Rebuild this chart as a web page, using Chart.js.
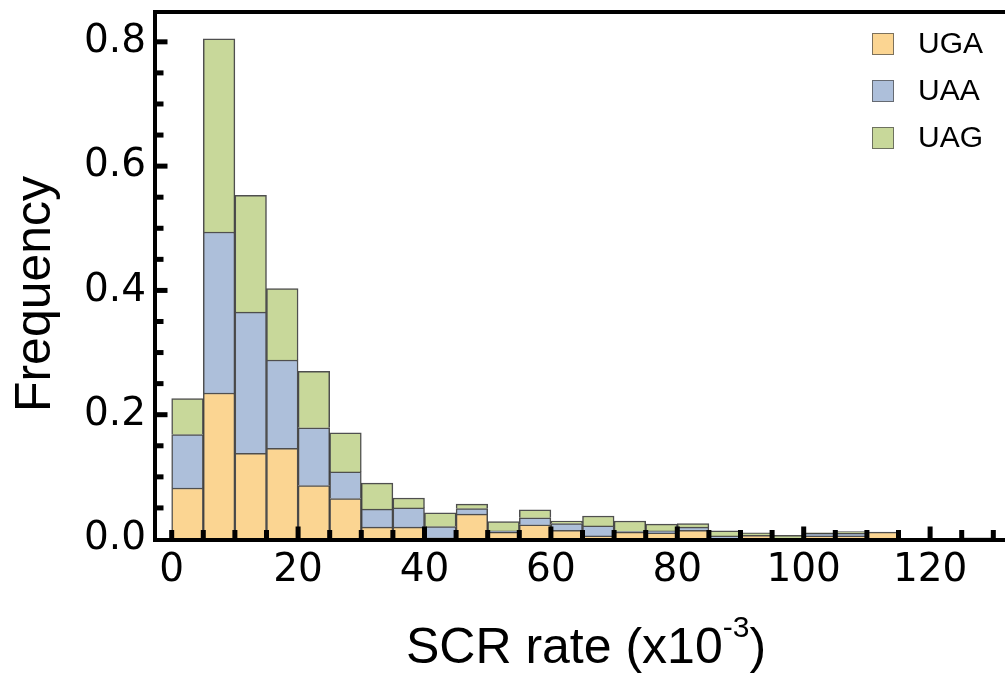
<!DOCTYPE html>
<html>
<head>
<meta charset="utf-8">
<script src="https://cdn.jsdelivr.net/npm/chart.js@4.4.1/dist/chart.umd.min.js"></script>
<style>
html, body { margin: 0; padding: 0; background: #fff; }
#wrap { width: 1005px; height: 673px; }
</style>
</head>
<body>
<div id="wrap"><canvas id="myChart" width="1005" height="673"></canvas></div>
<script>
// histogram bins, 5 wide (SCR rate x10^-3)
var binWidth = 5;
var binStarts = [0, 5, 10, 15, 20, 25, 30, 35, 40, 45, 50, 55, 60, 65, 70, 75, 80, 85, 90, 95, 100, 105, 110, 115, 120, 125];
var uga = [0.082, 0.235, 0.138, 0.146, 0.086, 0.065, 0.019, 0.019, 0.002, 0.040, 0.011, 0.023, 0.014, 0.005, 0.011, 0.010, 0.014, 0, 0.006, 0, 0.005, 0.005, 0.011, 0, 0, 0];
var uaa = [0.086, 0.259, 0.227, 0.142, 0.093, 0.043, 0.029, 0.031, 0.018, 0.009, 0.002, 0.011, 0.011, 0.016, 0.001, 0.003, 0.005, 0.005, 0, 0, 0.004, 0.004, 0, 0, 0, 0];
var uag = [0.058, 0.311, 0.188, 0.115, 0.091, 0.063, 0.042, 0.016, 0.022, 0.007, 0.015, 0.013, 0.004, 0.016, 0.017, 0.011, 0.006, 0.008, 0.004, 0.006, 0.001, 0.003, 0, 0, 0, 0.002];

var xTickLabels = [0, 20, 40, 60, 80, 100, 120];
var yTickLabels = [0, 0.2, 0.4, 0.6, 0.8];

function toPoints(vals) {
  return binStarts.map(function (s, i) {
    return { x: s + binWidth / 2, y: vals[i] ? vals[i] : null };
  });
}

var edge = 'rgba(35,35,35,0.8)';

// frame + inward ticks
var frameAndTicks = {
  id: 'frameAndTicks',
  afterDatasetsDraw: function (chart) {
    var ctx = chart.ctx, a = chart.chartArea;
    var xs = chart.scales.x, ys = chart.scales.y;
    ctx.save();
    ctx.fillStyle = '#000';
    ctx.fillRect(a.left - 2, a.top - 2, a.right - a.left + 4, 4);
    ctx.fillRect(a.left - 2, a.top - 2, 4, a.bottom - a.top + 4);
    ctx.fillRect(a.left - 2, a.bottom - 1, a.right - a.left + 4, 4);
    for (var i = 1; i * 0.05 < ys.max; i++) {
      var py = ys.getPixelForValue(i * 0.05);
      var len = (i % 4 === 0) ? 12.5 : 8.5;
      ctx.fillRect(a.left, py - 2.5, len, 5);
    }
    for (var k = 0; k * 5 <= xs.max; k++) {
      var px = xs.getPixelForValue(k * 5);
      var h = (k % 4 === 0 && k > 0) ? 12.5 : 9;
      ctx.fillRect(px - 2.5, a.bottom - h, 5, h);
    }
    ctx.restore();
  }
};

// axis titles + legend
var titlesAndLegend = {
  id: 'titlesAndLegend',
  afterDraw: function (chart) {
    var ctx = chart.ctx;
    ctx.save();
    ctx.fillStyle = '#000';
    ctx.font = '50px "Liberation Sans", Arial, sans-serif';
    ctx.textBaseline = 'alphabetic';
    ctx.textAlign = 'center';
    ctx.translate(50, 294);
    ctx.rotate(-Math.PI / 2);
    ctx.fillText('Frequency', 0, 0);
    ctx.restore();

    ctx.save();
    ctx.fillStyle = '#000';
    ctx.textBaseline = 'alphabetic';
    ctx.textAlign = 'left';
    var big = '50px "Liberation Sans", Arial, sans-serif';
    var small = '30px "Liberation Sans", Arial, sans-serif';
    ctx.font = big;
    var w1 = ctx.measureText('SCR rate (x10').width;
    var w3 = ctx.measureText(')').width;
    ctx.font = small;
    var w2 = ctx.measureText('-3').width;
    var x0 = 586 - (w1 + w2 + w3) / 2, base = 663;
    ctx.font = big;
    ctx.fillText('SCR rate (x10', x0, base);
    ctx.font = small;
    ctx.fillText('-3', x0 + w1, base - 26);
    ctx.font = big;
    ctx.fillText(')', x0 + w1 + w2, base);

    ctx.font = '30px "Liberation Sans", Arial, sans-serif';
    ctx.textBaseline = 'middle';
    chart.data.datasets.forEach(function (ds, i) {
      var cy = 44 + i * 47;
      ctx.fillStyle = ds.backgroundColor;
      ctx.fillRect(872, cy - 11, 22, 22);
      ctx.strokeStyle = 'rgba(70,70,70,0.7)';
      ctx.lineWidth = 1;
      ctx.strokeRect(872.5, cy - 10.5, 21, 21);
      ctx.fillStyle = '#000';
      ctx.fillText(ds.label, 918, cy + 1);
    });
    ctx.restore();
  }
};

var ctx = document.getElementById('myChart');
var myChart = new Chart(ctx, {
  type: 'bar',
  data: {
    datasets: [
      { label: 'UGA', data: toPoints(uga), backgroundColor: '#FBD592', borderColor: edge, borderWidth: 1.5 },
      { label: 'UAA', data: toPoints(uaa), backgroundColor: '#ADBFDA', borderColor: edge, borderWidth: 1.5 },
      { label: 'UAG', data: toPoints(uag), backgroundColor: '#C8D89A', borderColor: edge, borderWidth: 1.5 }
    ]
  },
  options: {
    responsive: false,
    animation: false,
    devicePixelRatio: 1,
    barPercentage: 1,
    categoryPercentage: 1,
    layout: { padding: { top: 12, right: 0, left: 0, bottom: 0 } },
    plugins: {
      legend: { display: false },
      tooltip: { enabled: false }
    },
    scales: {
      x: {
        type: 'linear',
        stacked: true,
        offset: false,
        min: -2.64,
        max: 131.85,
        grid: { display: false, drawTicks: false },
        border: { display: false },
        afterBuildTicks: function (scale) {
          scale.ticks = xTickLabels.map(function (v) { return { value: v }; });
        },
        afterFit: function (scale) {
          scale.height = 134;
          scale.paddingLeft = 0;
          scale.paddingRight = 0;
        },
        ticks: {
          autoSkip: false,
          maxRotation: 0,
          padding: 8,
          color: '#000',
          font: { family: '"DejaVu Sans"', size: 39 },
          callback: function (v) { return String(v); }
        }
      },
      y: {
        stacked: true,
        min: 0,
        max: 0.848,
        grid: { display: false, drawTicks: false },
        border: { display: false },
        afterBuildTicks: function (scale) {
          scale.ticks = yTickLabels.map(function (v) { return { value: v }; });
        },
        afterFit: function (scale) {
          scale.width = 155;
          scale.paddingTop = 0;
          scale.paddingBottom = 0;
        },
        ticks: {
          padding: 9,
          color: '#000',
          font: { family: '"DejaVu Sans"', size: 39 },
          callback: function (v) { return v.toFixed(1); }
        }
      }
    }
  },
  plugins: [frameAndTicks, titlesAndLegend]
});
</script>
</body>
</html>
